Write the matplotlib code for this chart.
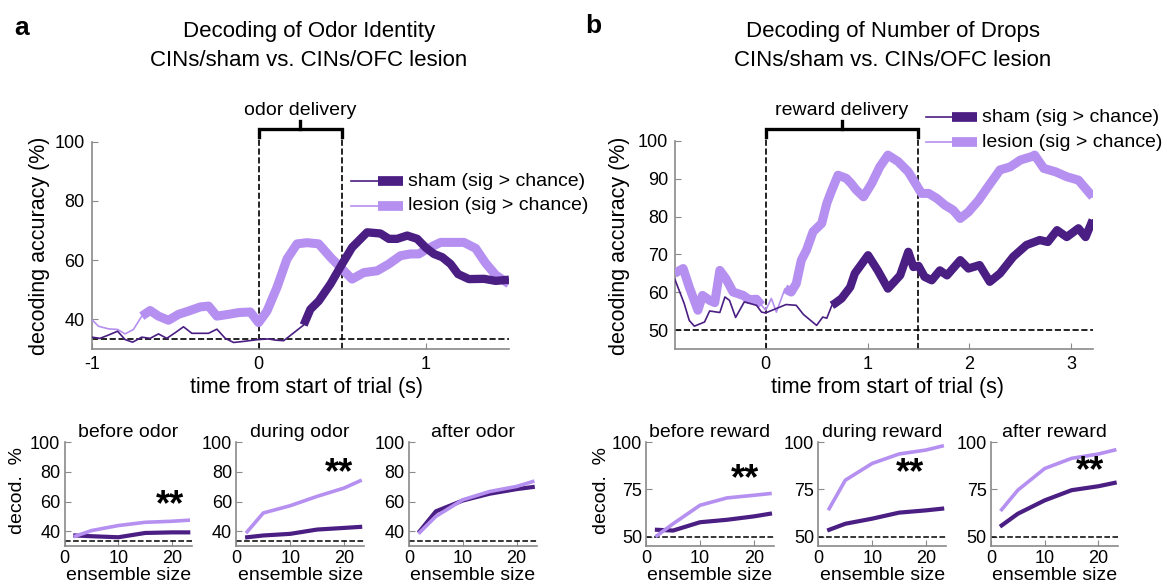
import numpy as np
import matplotlib
matplotlib.use('Agg')
import matplotlib.pyplot as plt
from matplotlib.lines import Line2D

plt.rcParams['font.family'] = ['Liberation Sans', 'DejaVu Sans']
plt.rcParams['axes.unicode_minus'] = False

#%% colours
c_sham = (74/255, 30/255, 130/255)
c_lesion = (181/255, 144/255, 240/255)
c_spine = '#8a8a8a'

#%% odor identity decoding over time
t_odor_sham = np.array([-1.00, -0.95, -0.90, -0.845, -0.80, -0.755, -0.70, -0.65, -0.60, -0.55,
                        -0.50, -0.45, -0.40, -0.30, -0.25, -0.20, -0.15, -0.10, 0.00, 0.06,
                        0.10, 0.15, 0.27, 0.31, 0.36, 0.43, 0.50, 0.56, 0.65, 0.73,
                        0.78, 0.83, 0.89, 0.95, 1.00, 1.05, 1.10, 1.15, 1.195, 1.26,
                        1.35, 1.42, 1.50])
acc_odor_sham = np.array([34.0, 33.6, 34.7, 36.0, 33.2, 32.3, 34.0, 33.6, 35.1, 33.6,
                          35.5, 37.5, 35.3, 35.3, 36.7, 33.6, 32.2, 32.5, 33.2, 33.4,
                          33.0, 32.8, 38.1, 43.4, 46.2, 51.9, 58.7, 64.3, 69.4, 69.0,
                          67.2, 67.2, 68.3, 67.2, 64.3, 62.1, 61.0, 58.7, 55.3, 53.6,
                          53.7, 53.0, 53.4])
t_odor_lesion = np.array([-1.00, -0.96, -0.90, -0.845, -0.80, -0.75, -0.70, -0.65, -0.60, -0.54,
                          -0.48, -0.42, -0.35, -0.30, -0.25, -0.18, -0.12, -0.05, 0.00, 0.05,
                          0.11, 0.17, 0.23, 0.29, 0.36, 0.43, 0.50, 0.56, 0.63, 0.71,
                          0.78, 0.85, 0.91, 0.96, 1.01, 1.09, 1.15, 1.23, 1.30, 1.36,
                          1.42, 1.50])
acc_odor_lesion = np.array([40.0, 37.7, 36.8, 36.6, 35.1, 36.6, 41.1, 43.0, 41.1, 39.7,
                            41.7, 42.8, 44.2, 44.5, 41.1, 41.7, 42.3, 42.5, 38.9, 42.8,
                            50.8, 60.4, 65.5, 65.9, 65.5, 61.0, 57.0, 53.6, 55.8, 56.4,
                            58.7, 61.5, 62.1, 62.1, 63.8, 66.0, 66.0, 66.0, 64.0, 59.0,
                            55.0, 52.0])
sig_odor_sham = [(0.27, 1.50)]
sig_odor_lesion = [(-0.70, 1.50)]

#%% number of drops decoding over time
t_drop_sham = np.array([-0.895, -0.80, -0.75, -0.70, -0.60, -0.55, -0.45, -0.40, -0.355, -0.295,
                        -0.21, -0.09, -0.04, 0.00, 0.10, 0.20, 0.30, 0.37, 0.50, 0.56,
                        0.60, 0.65, 0.68, 0.745, 0.83, 0.875, 1.005, 1.10, 1.20, 1.32,
                        1.40, 1.45, 1.50, 1.56, 1.63, 1.71, 1.78, 1.91, 1.99, 2.10,
                        2.20, 2.30, 2.43, 2.56, 2.69, 2.77, 2.86, 2.955, 3.07, 3.14,
                        3.21])
acc_drop_sham = np.array([63.7, 57.1, 52.6, 51.1, 52.2, 55.1, 54.7, 58.8, 57.9, 53.4,
                          57.5, 56.6, 54.8, 54.6, 55.7, 56.8, 56.6, 54.2, 51.3, 53.5,
                          53.2, 56.6, 57.1, 58.4, 61.4, 65.0, 69.8, 65.8, 61.0, 64.5,
                          70.7, 66.7, 67.0, 64.1, 63.2, 65.8, 64.5, 68.5, 66.3, 67.2,
                          62.8, 65.0, 69.4, 72.5, 73.8, 73.3, 76.4, 74.6, 76.9, 74.6,
                          79.1])
t_drop_lesion = np.array([-0.895, -0.81, -0.75, -0.665, -0.62, -0.55, -0.50, -0.45, -0.39, -0.32,
                          -0.22, -0.16, -0.09, -0.04, 0.00, 0.056, 0.105, 0.154, 0.19, 0.25,
                          0.30, 0.35, 0.40, 0.465, 0.55, 0.60, 0.65, 0.71, 0.79, 0.84,
                          0.89, 0.96, 1.04, 1.12, 1.20, 1.30, 1.40, 1.48, 1.53, 1.60,
                          1.68, 1.76, 1.84, 1.91, 1.99, 2.09, 2.17, 2.30, 2.40, 2.50,
                          2.61, 2.64, 2.73, 2.845, 2.955, 3.07, 3.21])
acc_drop_lesion = np.array([65.0, 66.3, 61.4, 55.3, 59.2, 57.9, 57.3, 65.8, 63.6, 60.1,
                            59.2, 58.1, 58.2, 56.6, 55.3, 58.4, 54.8, 58.4, 61.0, 60.1,
                            62.3, 68.5, 71.1, 76.0, 78.2, 83.5, 87.0, 90.9, 90.1, 88.7,
                            87.0, 85.2, 88.7, 93.1, 96.2, 94.5, 91.8, 88.3, 86.1, 86.1,
                            84.8, 83.0, 81.7, 79.5, 81.2, 84.3, 87.4, 92.3, 93.1, 94.9,
                            95.8, 96.2, 92.7, 91.8, 90.5, 89.6, 85.2])
sig_drop_sham = [(0.65, 3.21)]
sig_drop_lesion = [(-0.895, -0.04), (0.19, 3.21)]

#%% ensemble size curves
ens_size = np.array([2, 5, 10, 15, 20, 23])

odor_titles = ['before odor', 'during odor', 'after odor']
odor_ens_sham = [[37.1, 36.6, 35.9, 38.8, 39.2, 39.2],
                 [35.9, 37.1, 38.2, 41.1, 42.2, 42.9],
                 [40.0, 53.4, 60.7, 65.3, 68.4, 69.8]]
odor_ens_lesion = [[36.6, 40.4, 43.8, 46.0, 46.7, 47.4],
                   [39.6, 52.3, 57.2, 63.5, 69.1, 74.0],
                   [39.2, 50.0, 61.2, 66.8, 70.2, 73.5]]
odor_stars = [(19.6, 57.0), (19.1, 78.7), None]

drop_titles = ['before reward', 'during reward', 'after reward']
drop_ens_sham = [[53.6, 53.2, 57.6, 58.9, 60.7, 62.1],
                 [53.6, 56.8, 59.5, 62.7, 63.9, 64.8],
                 [55.9, 62.1, 69.2, 74.6, 76.7, 78.5]]
drop_ens_lesion = [[50.5, 56.8, 66.6, 70.5, 71.9, 72.8],
                   [64.8, 79.9, 88.8, 93.8, 95.9, 98.0],
                   [64.3, 74.6, 86.1, 91.5, 93.8, 95.9]]
drop_stars = [(18.4, 80.3), (17.0, 83.1), (18.4, 84.3)]

chance_odor = 100/3
chance_drop = 50

#%% figure
W, H = 1167, 586
fig = plt.figure(figsize=(W/100, H/100), dpi=100)


def box(l, t, r, b):
    return [l/W, 1 - b/H, (r - l)/W, (b - t)/H]


def fx(x):
    return x/W


def fy(y):
    return 1 - y/H


def style(ax, fs=13):
    for s in ['top', 'right']:
        ax.spines[s].set_visible(False)
    for s in ['left', 'bottom']:
        ax.spines[s].set_color(c_spine)
        ax.spines[s].set_linewidth(1.2)
    ax.tick_params(direction='in', length=4, color=c_spine, labelsize=fs, pad=5)


def sig_mask(t, windows):
    m = np.zeros(len(t), dtype=bool)
    for a, b in windows:
        m |= (t >= a - 1e-9) & (t <= b + 1e-9)
    return m


def time_course(ax, t, v, sig, col, lw_thick):
    ax.plot(t, v, color=col, lw=1.2, zorder=3)
    ax.plot(t, np.where(sig_mask(t, sig), v, np.nan), color=col, lw=lw_thick,
            solid_joinstyle='round', solid_capstyle='butt', zorder=3)


def legend_rows(x0, x1, x2, xt, ys):
    for (y, col, txt) in zip(ys, [c_sham, c_lesion],
                             ['sham (sig > chance)', 'lesion (sig > chance)']):
        fig.add_artist(Line2D([fx(x0), fx(x1)], [fy(y), fy(y)], color=col, lw=1.2))
        fig.add_artist(Line2D([fx(x1), fx(x2)], [fy(y), fy(y)], color=col, lw=7,
                              solid_capstyle='butt'))
        fig.text(fx(xt), fy(y), txt, fontsize=14, va='center', ha='left')


def bracket(ax, t0, t1, ybar, ytick, ymid, ytext, label, ybot):
    for tt in [t0, t1]:
        ax.plot([tt, tt], [ybot, ybar], color='k', ls='--', lw=1.2, clip_on=False, zorder=2)
    tm = (t0 + t1)/2
    ax.plot([t0, t0, t1, t1], [ytick, ybar, ybar, ytick], color='k', lw=2.4,
            clip_on=False, solid_joinstyle='miter')
    ax.plot([tm, tm], [ybar, ymid], color='k', lw=2.4, clip_on=False)
    ax.text(tm, ytext, label, fontsize=14, ha='center', va='center')


# --- panel a, time course
ax_a = fig.add_axes(box(91.7, 141.7, 509, 349))
style(ax_a)
ax_a.axhline(chance_odor, color='k', ls='--', lw=1.2, zorder=2)
time_course(ax_a, t_odor_lesion, acc_odor_lesion, sig_odor_lesion, c_lesion, 6.5)
time_course(ax_a, t_odor_sham, acc_odor_sham, sig_odor_sham, c_sham, 6)
ax_a.set_xlim(-1, 1.5)
ax_a.set_ylim(30, 100)
ax_a.set_xticks([-1, 0, 1])
ax_a.set_yticks([40, 60, 80, 100])
bracket(ax_a, 0, 0.5, 104.2, 101.7, 107.1, 110.6, 'odor delivery', 30)
legend_rows(351, 378, 402.5, 408, [181, 206])

# --- panel b, time course
ax_b = fig.add_axes(box(675, 140.7, 1092.7, 349.3))
style(ax_b)
ax_b.axhline(chance_drop, color='k', ls='--', lw=1.2, zorder=2)
time_course(ax_b, t_drop_lesion, acc_drop_lesion, sig_drop_lesion, c_lesion, 6.5)
time_course(ax_b, t_drop_sham, acc_drop_sham, sig_drop_sham, c_sham, 6)
ax_b.set_xlim(-0.89, 3.21)
ax_b.set_ylim(45, 100)
ax_b.set_xticks([0, 1, 2, 3])
ax_b.set_yticks([50, 60, 70, 80, 90, 100])
bracket(ax_b, 0, 1.5, 103.0, 101.1, 105.3, 107.9, 'reward delivery', 45)
legend_rows(926, 952, 976.7, 982, [117, 142])

for xc in [40, 620]:
    fig.text(fx(xc), fy(246), 'decoding accuracy (%)', rotation=90, fontsize=15.5,
             ha='center', va='center')
for xc in [306.7, 887.5]:
    fig.text(fx(xc), fy(388), 'time from start of trial (s)', fontsize=15.5,
             ha='center', va='center')

# titles and panel letters
fig.text(fx(309), fy(32), 'Decoding of Odor Identity', fontsize=16, ha='center', va='center')
fig.text(fx(309), fy(60), 'CINs/sham vs. CINs/OFC lesion', fontsize=16, ha='center', va='center')
fig.text(fx(893), fy(32), 'Decoding of Number of Drops', fontsize=16, ha='center', va='center')
fig.text(fx(893), fy(60), 'CINs/sham vs. CINs/OFC lesion', fontsize=16, ha='center', va='center')
fig.text(fx(22), fy(28), 'a', fontsize=19, fontweight='bold', ha='center', va='center')
fig.text(fx(593), fy(26), 'b', fontsize=19, fontweight='bold', ha='center', va='center')


# --- ensemble size panels
def ens_panel(left, title, sham, lesion, star, chance, ylim, yticks):
    ax = fig.add_axes(box(left, 442.3, left + 127.5, 546))
    style(ax)
    ax.axhline(chance, color='k', ls='--', lw=1.1, zorder=2)
    ax.plot(ens_size, sham, color=c_sham, lw=3)
    ax.plot(ens_size, lesion, color=c_lesion, lw=2.6)
    ax.set_xlim(0, 23.7)
    ax.set_ylim(*ylim)
    ax.set_xticks([0, 10, 20])
    ax.set_yticks(yticks)
    ax.tick_params(pad=3)
    ax.set_title(title, fontsize=14, pad=4)
    ax.set_xlabel('ensemble size', fontsize=14, labelpad=0)
    if star is not None:
        ax.text(star[0], star[1], '**', fontsize=26, fontweight='bold',
                ha='center', va='center')
    return ax


for left, ttl, s, l, st in zip([64.5, 236.4, 409], odor_titles, odor_ens_sham,
                               odor_ens_lesion, odor_stars):
    ens_panel(left, ttl, s, l, st, chance_odor, (30, 100), [40, 60, 80, 100])
for left, ttl, s, l, st in zip([646.2, 818.4, 990.9], drop_titles, drop_ens_sham,
                               drop_ens_lesion, drop_stars):
    ens_panel(left, ttl, s, l, st, chance_drop, (45, 100), [50, 75, 100])

for xc in [17, 602]:
    fig.text(fx(xc), fy(490), 'decod.  %', rotation=90, fontsize=14,
             ha='center', va='center')

fig.savefig('out.png', dpi=100)
